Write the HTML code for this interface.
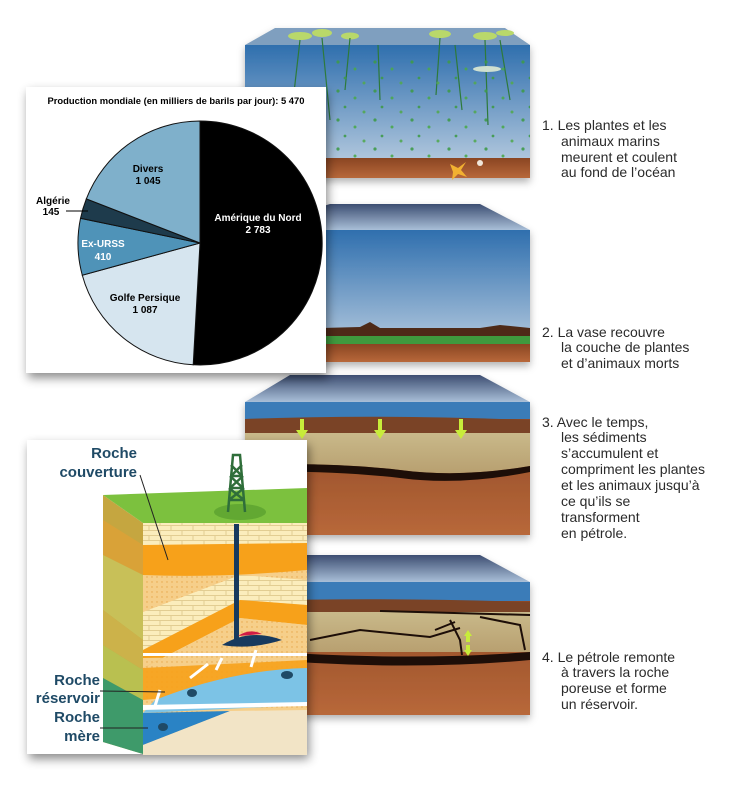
<!DOCTYPE html>
<html><head><meta charset="utf-8"><style>
html,body{margin:0;padding:0;background:#fff;}
svg{display:block;font-family:"Liberation Sans",Arial,sans-serif;}
.t{font-size:14px;fill:#2a2a2a;}
.pl{font-weight:bold;font-size:10px;text-anchor:middle;}
.rl{font-weight:bold;font-size:15px;fill:#1f4a66;text-anchor:end;}
</style></head><body>
<svg width="740" height="800" viewBox="0 0 740 800" xmlns="http://www.w3.org/2000/svg">
<defs>
  <linearGradient id="water" x1="0" y1="0" x2="0" y2="1">
    <stop offset="0" stop-color="#2f6fae"/><stop offset="1" stop-color="#c4d4e4"/>
  </linearGradient>
  <linearGradient id="topf" x1="0" y1="0" x2="0" y2="1">
    <stop offset="0" stop-color="#3d4e72"/><stop offset="1" stop-color="#a9bfd8"/>
  </linearGradient>
  <linearGradient id="brown" x1="0" y1="0" x2="0" y2="1">
    <stop offset="0" stop-color="#8a4522"/><stop offset="1" stop-color="#b8683a"/>
  </linearGradient>
  <linearGradient id="sand" x1="0" y1="0" x2="0" y2="1">
    <stop offset="0" stop-color="#c9b98a"/><stop offset="1" stop-color="#b8a070"/>
  </linearGradient>
  <pattern id="dots" width="37" height="29" patternUnits="userSpaceOnUse">
    <circle cx="5" cy="4" r="1.6" fill="#3e9a4a"/><circle cx="22" cy="11" r="1.5" fill="#4aa84e"/>
    <circle cx="12" cy="20" r="1.4" fill="#3e9a4a"/><circle cx="31" cy="25" r="1.5" fill="#52a852"/>
  </pattern>
  <pattern id="pd" width="5" height="5" patternUnits="userSpaceOnUse">
    <rect width="5" height="5" fill="#f6cf8a"/><circle cx="2" cy="2" r="0.7" fill="#e7a64a"/>
  </pattern>
  <pattern id="brick" width="22" height="10" patternUnits="userSpaceOnUse">
    <rect width="22" height="10" fill="#fbedbc"/>
    <path d="M0 0.5H22M0 5.5H22M6 0V5M17 5V10" stroke="#e2cd92" stroke-width="1"/>
  </pattern>
  <filter id="sh" x="-10%" y="-10%" width="125%" height="125%">
    <feDropShadow dx="2" dy="5" stdDeviation="5" flood-color="#000" flood-opacity="0.45"/>
  </filter>
  <filter id="sh2" x="-10%" y="-10%" width="125%" height="125%">
    <feDropShadow dx="0" dy="4" stdDeviation="4" flood-color="#000" flood-opacity="0.3"/>
  </filter>
</defs>

<!-- BOX 1 -->
<g filter="url(#sh2)">
<polygon points="275,28 505,28 530,45 245,45" fill="#7f9fbf"/>
<rect x="245" y="45" width="285" height="133" fill="url(#water)"/>
</g>
<g fill="#b9d86a">
<ellipse cx="300" cy="36" rx="12" ry="4"/><ellipse cx="322" cy="33" rx="10" ry="4"/><ellipse cx="350" cy="36" rx="9" ry="3.5"/>
<ellipse cx="440" cy="34" rx="11" ry="4"/><ellipse cx="485" cy="36" rx="12" ry="4"/><ellipse cx="505" cy="33" rx="9" ry="3"/>
</g>
<g stroke="#2d7a3a" stroke-width="1.2" fill="none">
<path d="M300 40 L292 110"/><path d="M322 38 L330 120"/><path d="M350 38 L345 90"/><path d="M378 45 L380 100"/>
<path d="M440 38 L436 95"/><path d="M455 45 L462 110"/><path d="M485 40 L488 125"/><path d="M500 40 L510 100"/>
</g>
<rect x="330" y="60" width="200" height="100" fill="url(#dots)" opacity="0.9"/>
<ellipse cx="487" cy="69" rx="14" ry="3" fill="#cfe0d0"/>
<rect x="245" y="158" width="285" height="20" fill="url(#brown)"/>
<path d="M450 164 l8 4 l8-6 l-5 8 l6 7 l-9-3 l-6 6 l1-8 z" fill="#f2b130"/>
<circle cx="480" cy="163" r="3" fill="#f0e6da"/>

<!-- BOX 2 -->
<g filter="url(#sh2)">
<polygon points="330,204 480,204 530,230 245,230" fill="url(#topf)"/>
<rect x="245" y="230" width="285" height="132" fill="url(#water)"/>
</g>
<path d="M245 330 L360 327 L370 322 L380 328 L480 328 L500 325 L530 328 L530 345 L245 345 Z" fill="#4e2a18"/>
<rect x="245" y="336" width="285" height="8" fill="#3f9a3e"/>
<rect x="245" y="344" width="285" height="18" fill="url(#brown)"/>

<!-- BOX 3 -->
<g filter="url(#sh2)">
<polygon points="290,375 480,375 530,402 245,402" fill="url(#topf)"/>
<rect x="245" y="402" width="285" height="133" fill="url(#brown)"/>
</g>
<rect x="245" y="402" width="285" height="17" fill="#3b7cb8"/>
<path d="M245 419 Q380 414 530 420 L530 433 L245 433 Z" fill="#7a4326"/>
<path d="M245 433 L530 433 L530 466 Q460 478 400 470 Q330 462 245 465 Z" fill="url(#sand)"/>
<path d="M245 465 Q330 462 400 470 Q460 478 530 466 L530 472 Q460 486 400 478 Q330 470 245 472 Z" fill="#1d0e08"/>
<g fill="#c8ec3a">
<rect x="300" y="419" width="4" height="12"/><path d="M296 430 h12 l-6 9 z"/>
<rect x="378" y="419" width="4" height="12"/><path d="M374 430 h12 l-6 9 z"/>
<rect x="459" y="419" width="4" height="12"/><path d="M455 430 h12 l-6 9 z"/>
</g>

<!-- BOX 4 -->
<g filter="url(#sh2)">
<polygon points="290,555 480,555 530,582 245,582" fill="url(#topf)"/>
<rect x="245" y="582" width="285" height="133" fill="url(#brown)"/>
</g>
<rect x="245" y="582" width="285" height="19" fill="#3b7cb8"/>
<path d="M245 601 Q380 597 530 602 L530 612 L245 612 Z" fill="#7a4326"/>
<rect x="245" y="612" width="285" height="40" fill="url(#sand)"/>
<path d="M245 650 Q400 662 530 652 L530 660 Q400 672 245 658 Z" fill="#1d0e08"/>
<g stroke="#1d0e08" stroke-width="2" fill="none">
<path d="M380 611 L530 615"/><path d="M310 640 L360 630 L430 637 L460 628"/><path d="M450 620 L460 640 L462 655"/>
<path d="M480 617 L520 625 L525 650"/><path d="M435 630 L455 622"/>
</g>
<g fill="#c8ec3a"><path d="M468 630 l-4 6 h8 z"/><rect x="466" y="636" width="4" height="6"/><path d="M468 656 l-4-6 h8 z"/><rect x="466" y="645" width="4" height="5"/></g>

<!-- PIE CARD -->
<g filter="url(#sh)">
<rect x="26" y="87" width="300" height="286" fill="#fff"/>
</g>
<text x="176" y="104" font-size="9" font-weight="bold" text-anchor="middle" textLength="257" lengthAdjust="spacingAndGlyphs">Production mondiale (en milliers de barils par jour): 5 470</text>
<g stroke="#111" stroke-width="1">
<path d="M200 243 L200 121 A122 122 0 1 1 193.2 364.8 Z" fill="#000"/>
<path d="M200 243 L193.2 364.8 A122 122 0 0 1 82.3 275.2 Z" fill="#d6e5ef"/>
<path d="M200 243 L82.3 275.2 A122 122 0 0 1 80.5 218.3 Z" fill="#4f93b8"/>
<path d="M200 243 L80.5 218.3 A122 122 0 0 1 86.3 198.9 Z" fill="#1e3b4c"/>
<path d="M200 243 L86.3 198.9 A122 122 0 0 1 200 121 Z" fill="#7fb0cb"/>
</g>
<text class="pl" x="258" y="221" fill="#fff">Amérique du Nord</text>
<text class="pl" x="258" y="233" fill="#fff">2 783</text>
<text class="pl" x="148" y="172">Divers</text><text class="pl" x="148" y="184">1 045</text>
<text class="pl" x="53" y="204">Algérie</text><text class="pl" x="51" y="215">145</text>
<path d="M66 211 L88 211" stroke="#000"/>
<text class="pl" x="103" y="247" fill="#fff">Ex-URSS</text><text class="pl" x="103" y="260" fill="#fff">410</text>
<text class="pl" x="145" y="301">Golfe Persique</text><text class="pl" x="145" y="313">1 087</text>

<!-- GEOLOGY CARD -->
<g filter="url(#sh)">
<rect x="27" y="440" width="280" height="314" fill="#fff"/>
</g>
<!-- left face -->
<polygon points="103,495 143,523 143,754 103,742" fill="#c5a640"/>
<polygon points="103,520 143,545 143,575 103,555" fill="#d9a238"/>
<polygon points="103,555 143,575 143,640 103,610" fill="#c8c058"/>
<polygon points="103,610 143,640 143,670 103,645" fill="#ccb24a"/>
<polygon points="103,645 143,670 143,700 103,678" fill="#b9c050"/>
<polygon points="103,678 143,700 143,754 103,742" fill="#3e9a6a"/>
<!-- front face -->
<rect x="143" y="523" width="164" height="232" fill="url(#pd)"/>
<rect x="143" y="523" width="164" height="22" fill="url(#brick)"/>
<path d="M143 545 L307 543 L307 570 Q220 578 143 575 Z" fill="#f7a11a"/>
<path d="M143 612 L240 575 L307 580 L307 605 L240 600 L143 650 Z" fill="url(#brick)"/>
<path d="M143 650 L240 600 L307 605 L307 625 L240 618 L143 668 Z" fill="#f7a11a"/>
<path d="M143 668 L240 618 L307 625 L307 655 L143 658 Z" fill="url(#pd)"/>
<rect x="143" y="653" width="164" height="3" fill="#fff"/>
<path d="M143 668 L307 660 L307 685 L143 700 Z" fill="#f7a11a" opacity="0.9"/>
<path d="M155 700 Q230 670 307 668 L307 705 L143 713 Z" fill="#7cc3e6"/>
<path d="M143 705 L307 702 L307 706 L143 710 Z" fill="#fff"/>
<path d="M143 713 L230 711 L143 745 Z" fill="#2a83c5"/>
<path d="M143 745 L230 711 L307 710 L307 755 L143 755 Z" fill="#f2e4c6"/>
<!-- top -->
<polygon points="103,495 307,488 307,523 143,523" fill="#7cc13e"/>
<ellipse cx="240" cy="512" rx="26" ry="8" fill="#62a832"/>
<!-- derrick -->
<g stroke="#2f6e3a" stroke-width="2.5" fill="none">
<path d="M228 512 L233 455 L240 455 L245 512"/>
<path d="M229 500 L244 488 M230 488 L243 476 M231 476 L242 465 M229 500 L244 500 M230 488 L243 488 M231 476 L242 476 M244 500 L229 488 M243 488 L230 476 M242 476 L231 465"/>
</g>
<rect x="234" y="524" width="5" height="117" fill="#173a5e"/>
<path d="M222 645 Q250 628 282 640 Q250 650 222 645 Z" fill="#173a5e"/>
<path d="M238 636 Q250 628 262 634 Z" fill="#d01c45"/>
<g fill="#1f4a66"><ellipse cx="192" cy="693" rx="5" ry="4"/><ellipse cx="287" cy="675" rx="6" ry="4"/><ellipse cx="163" cy="727" rx="5" ry="4"/></g>
<g stroke="#fff" stroke-width="3" fill="none">
<path d="M190 678 L208 664"/><path d="M216 670 L222 658"/><path d="M251 667 L256 650"/><path d="M155 706 L160 690"/>
</g>
<text class="rl" x="137" y="458">Roche</text>
<text class="rl" x="137" y="477">couverture</text>
<path d="M140 475 L168 560" stroke="#222" stroke-width="1"/>
<text class="rl" x="100" y="685">Roche</text>
<text class="rl" x="100" y="703">réservoir</text>
<path d="M100 691 L165 692" stroke="#222" stroke-width="1"/>
<text class="rl" x="100" y="722">Roche</text>
<text class="rl" x="100" y="741">mère</text>
<path d="M100 728 L148 728" stroke="#222" stroke-width="1"/>

<!-- TEXT -->
<g class="t">
<text x="542" y="130">1. Les plantes et les</text>
<text x="561" y="146">animaux marins</text>
<text x="561" y="162">meurent et coulent</text>
<text x="561" y="177">au fond de l’océan</text>
<text x="542" y="337">2. La vase recouvre</text>
<text x="561" y="352">la couche de plantes</text>
<text x="561" y="368">et d’animaux morts</text>
<text x="542" y="427">3. Avec le temps,</text>
<text x="561" y="442">les sédiments</text>
<text x="561" y="458">s’accumulent et</text>
<text x="561" y="474">compriment les plantes</text>
<text x="561" y="490">et les animaux jusqu’à</text>
<text x="561" y="506">ce qu’ils se</text>
<text x="561" y="522">transforment</text>
<text x="561" y="538">en pétrole.</text>
<text x="542" y="662">4. Le pétrole remonte</text>
<text x="561" y="677">à travers la roche</text>
<text x="561" y="693">poreuse et forme</text>
<text x="561" y="709">un réservoir.</text>
</g>
</svg>
</body></html>
